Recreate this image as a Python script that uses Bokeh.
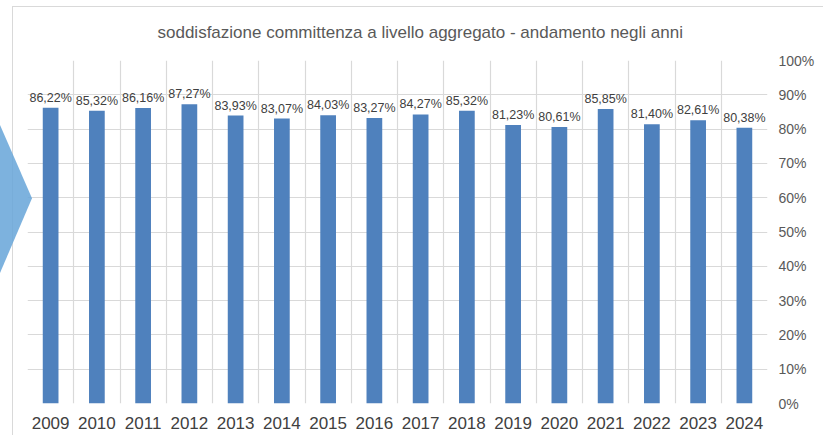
from bokeh.plotting import figure
from bokeh.models import (Range1d, FixedTicker, NumeralTickFormatter, ColumnDataSource,
                          InlineStyleSheet)
from bokeh.core.properties import value
from bokeh.embed import file_html
from bokeh.resources import INLINE

# ---- data ----
years = ["2009", "2010", "2011", "2012", "2013", "2014", "2015", "2016",
         "2017", "2018", "2019", "2020", "2021", "2022", "2023", "2024"]
satisfaction = [86.22, 85.32, 86.16, 87.27, 83.93, 83.07, 84.03, 83.27,
                84.27, 85.32, 81.23, 80.61, 85.85, 81.40, 82.61, 80.38]
y_ticks = [0.0, 0.1, 0.2, 0.3, 0.4, 0.5, 0.6, 0.7, 0.8, 0.9, 1.0]
title_text = "soddisfazione committenza a livello aggregato - andamento negli anni"

FONT = "Liberation Sans"
n = len(years)
centers = [i + 0.5 for i in range(n)]
fractions = [v / 100.0 for v in satisfaction]
labels = [f"{v:.2f}".replace(".", ",") + "%" for v in satisfaction]

source = ColumnDataSource(dict(x=centers, top=fractions, label=labels, year=years))

# decorative chart border and chevron shape (pure CSS, not data)
deco_css = """
:host { position: relative; }
:host::before {
  content: ""; position: absolute; left: 0px; top: 125px; width: 32px; height: 148px;
  background: #66A5D8; opacity: 0.85;
  clip-path: polygon(0 0, 100% 49.5%, 0 100%);
  z-index: 10; pointer-events: none;
}
:host::after {
  content: ""; position: absolute; left: 12px; top: 6px; right: -2px; bottom: -2px;
  border-left: 1px solid #D9D9D9; border-top: 1px solid #D9D9D9;
  z-index: 9; pointer-events: none;
}
"""

p = figure(width=823, height=435, x_range=Range1d(0, n), y_range=Range1d(0, 1),
           y_axis_location="right", output_backend="svg", toolbar_location=None,
           min_border_left=27, min_border_right=56, min_border_top=60,
           min_border_bottom=32, stylesheets=[InlineStyleSheet(css=deco_css)])

p.outline_line_color = None
p.background_fill_color = "white"
p.border_fill_color = "white"

# title
p.title.text = title_text
p.title.align = "left"
p.title.text_font = FONT
p.title.text_font_size = "17px"
p.title.text_font_style = "normal"
p.title.text_color = "#595959"
p.title.offset = 130
p.title.standoff = 37

# grid
p.xgrid.ticker = FixedTicker(ticks=list(range(n + 1)))
p.ygrid.ticker = FixedTicker(ticks=y_ticks)
p.xgrid.grid_line_color = "#D9D9D9"
p.ygrid.grid_line_color = "#D9D9D9"
p.xgrid.grid_line_width = 1.2
p.ygrid.grid_line_width = 1.2

# x axis
xa = p.xaxis[0]
xa.ticker = FixedTicker(ticks=centers)
xa.major_label_overrides = {c: y for c, y in zip(centers, years)}
xa.axis_line_color = None
xa.major_tick_line_color = None
xa.minor_tick_line_color = None
xa.major_tick_out = 0
xa.major_tick_in = 0
xa.major_label_standoff = 13
xa.major_label_text_font = FONT
xa.major_label_text_font_size = "17px"
xa.major_label_text_color = "#404040"

# y axis (right)
ya = p.yaxis[0]
ya.ticker = FixedTicker(ticks=y_ticks)
ya.formatter = NumeralTickFormatter(format="0%")
ya.axis_line_color = None
ya.major_tick_line_color = None
ya.minor_tick_line_color = None
ya.major_tick_out = 0
ya.major_tick_in = 0
ya.major_label_standoff = 11
ya.major_label_text_font = FONT
ya.major_label_text_font_size = "14px"
ya.major_label_text_color = "#595959"

# bars
p.vbar(x="x", top="top", bottom=0, width=0.34, source=source,
       fill_color="#4F81BD", line_color=None)

# data labels
p.text(x="x", y="top", text="label", source=source,
       text_align="center", text_baseline="alphabetic", y_offset=-10,
       text_font=value(FONT), text_font_size="12.5px", text_color="#404040")

open("out.html", "w").write(file_html(p, INLINE))
